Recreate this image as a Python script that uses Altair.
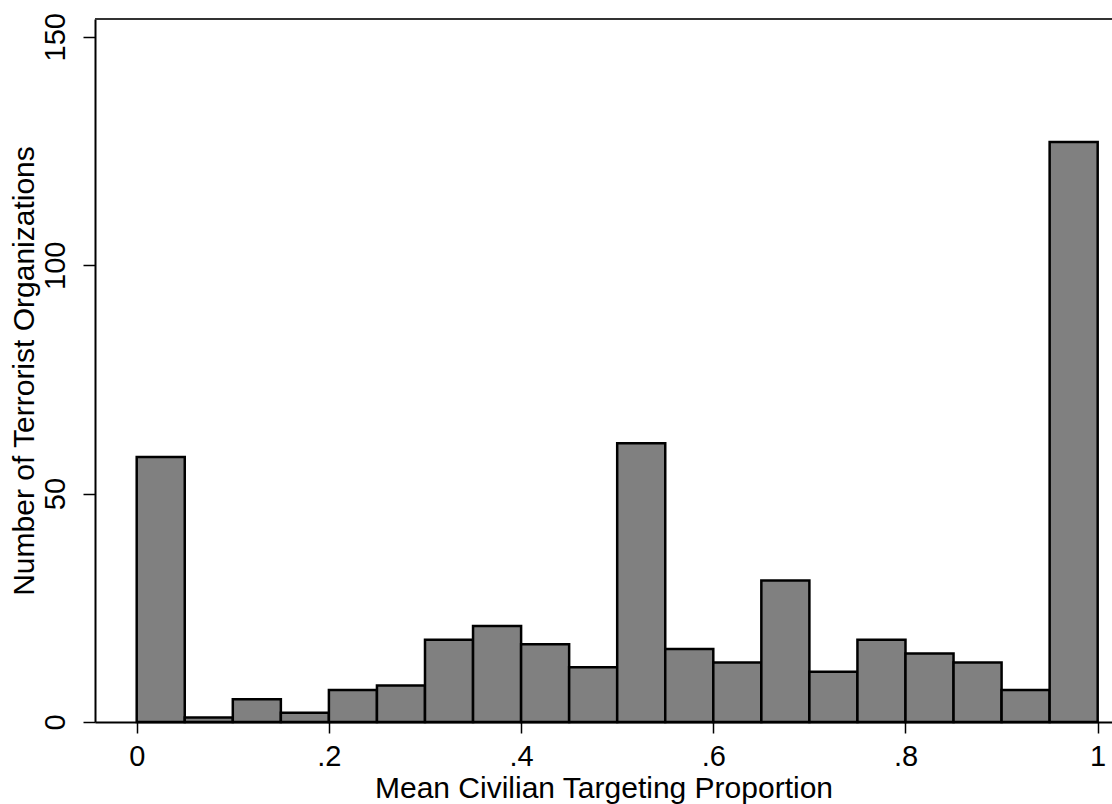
import altair as alt
import pandas as pd

bin_start = [0.00, 0.05, 0.10, 0.15, 0.20, 0.25, 0.30, 0.35, 0.40, 0.45,
             0.50, 0.55, 0.60, 0.65, 0.70, 0.75, 0.80, 0.85, 0.90, 0.95]
bin_end = [0.05, 0.10, 0.15, 0.20, 0.25, 0.30, 0.35, 0.40, 0.45, 0.50,
           0.55, 0.60, 0.65, 0.70, 0.75, 0.80, 0.85, 0.90, 0.95, 1.00]
counts = [58, 1, 5, 2, 7, 8, 18, 21, 17, 12, 61, 16, 13, 31, 11, 18, 15, 13, 7, 127]

x_ticks = [0, 0.2, 0.4, 0.6, 0.8, 1]
y_ticks = [0, 50, 100, 150]

df = pd.DataFrame({"start": bin_start, "end": bin_end, "count": counts})

W = 1017
H = 703
FONT = "Liberation Sans"

bars = alt.Chart(df).mark_bar(
    color="#808080", stroke="#000000", strokeWidth=2.5, strokeJoin="miter"
).encode(
    x=alt.X(
        "start:Q",
        scale=alt.Scale(domain=[-0.0434, 1.0149], nice=False, zero=False),
        axis=alt.Axis(
            title="Mean Civilian Targeting Proportion",
            values=x_ticks,
            labelExpr="datum.value == 0 ? '0' : datum.value == 1 ? '1' : replace(format(datum.value, '.1f'), '0.', '.')",
            grid=False,
            domainColor="#000000",
            domainWidth=2,
            tickColor="#000000",
            tickWidth=1.5,
            tickSize=11,
            labelFont=FONT,
            labelFontSize=29,
            labelColor="#000000",
            labelPadding=9,
            titleFont=FONT,
            titleFontSize=30,
            titleFontWeight="normal",
            titleColor="#000000",
            titlePadding=2,
        ),
    ),
    x2="end:Q",
    y=alt.Y(
        "count:Q",
        scale=alt.Scale(domain=[0, 153.9], nice=False),
        axis=alt.Axis(
            title="Number of Terrorist Organizations",
            values=y_ticks,
            grid=False,
            domainColor="#000000",
            domainWidth=2,
            tickColor="#000000",
            tickWidth=1.5,
            tickSize=12,
            labelFont=FONT,
            labelFontSize=29,
            labelColor="#000000",
            labelAngle=270,
            labelAlign="center",
            labelBaseline="bottom",
            labelPadding=13,
            titleFont=FONT,
            titleFontSize=30,
            titleFontWeight="normal",
            titleColor="#000000",
            titlePadding=2,
        ),
    ),
    y2=alt.datum(0),
)

top_line = alt.Chart(df).mark_rule(color="#333333", strokeWidth=2).encode(
    x=alt.value(0), x2=alt.value(W), y=alt.value(0)
)

chart = alt.layer(bars, top_line).properties(
    width=W,
    height=H,
    autosize=alt.AutoSizeParams(type="none"),
    padding={"left": 95, "top": 19, "right": 0, "bottom": 82},
).configure_view(stroke=None).configure(background="white")

chart.save("out.html", embed_options={"renderer": "svg", "actions": False})
